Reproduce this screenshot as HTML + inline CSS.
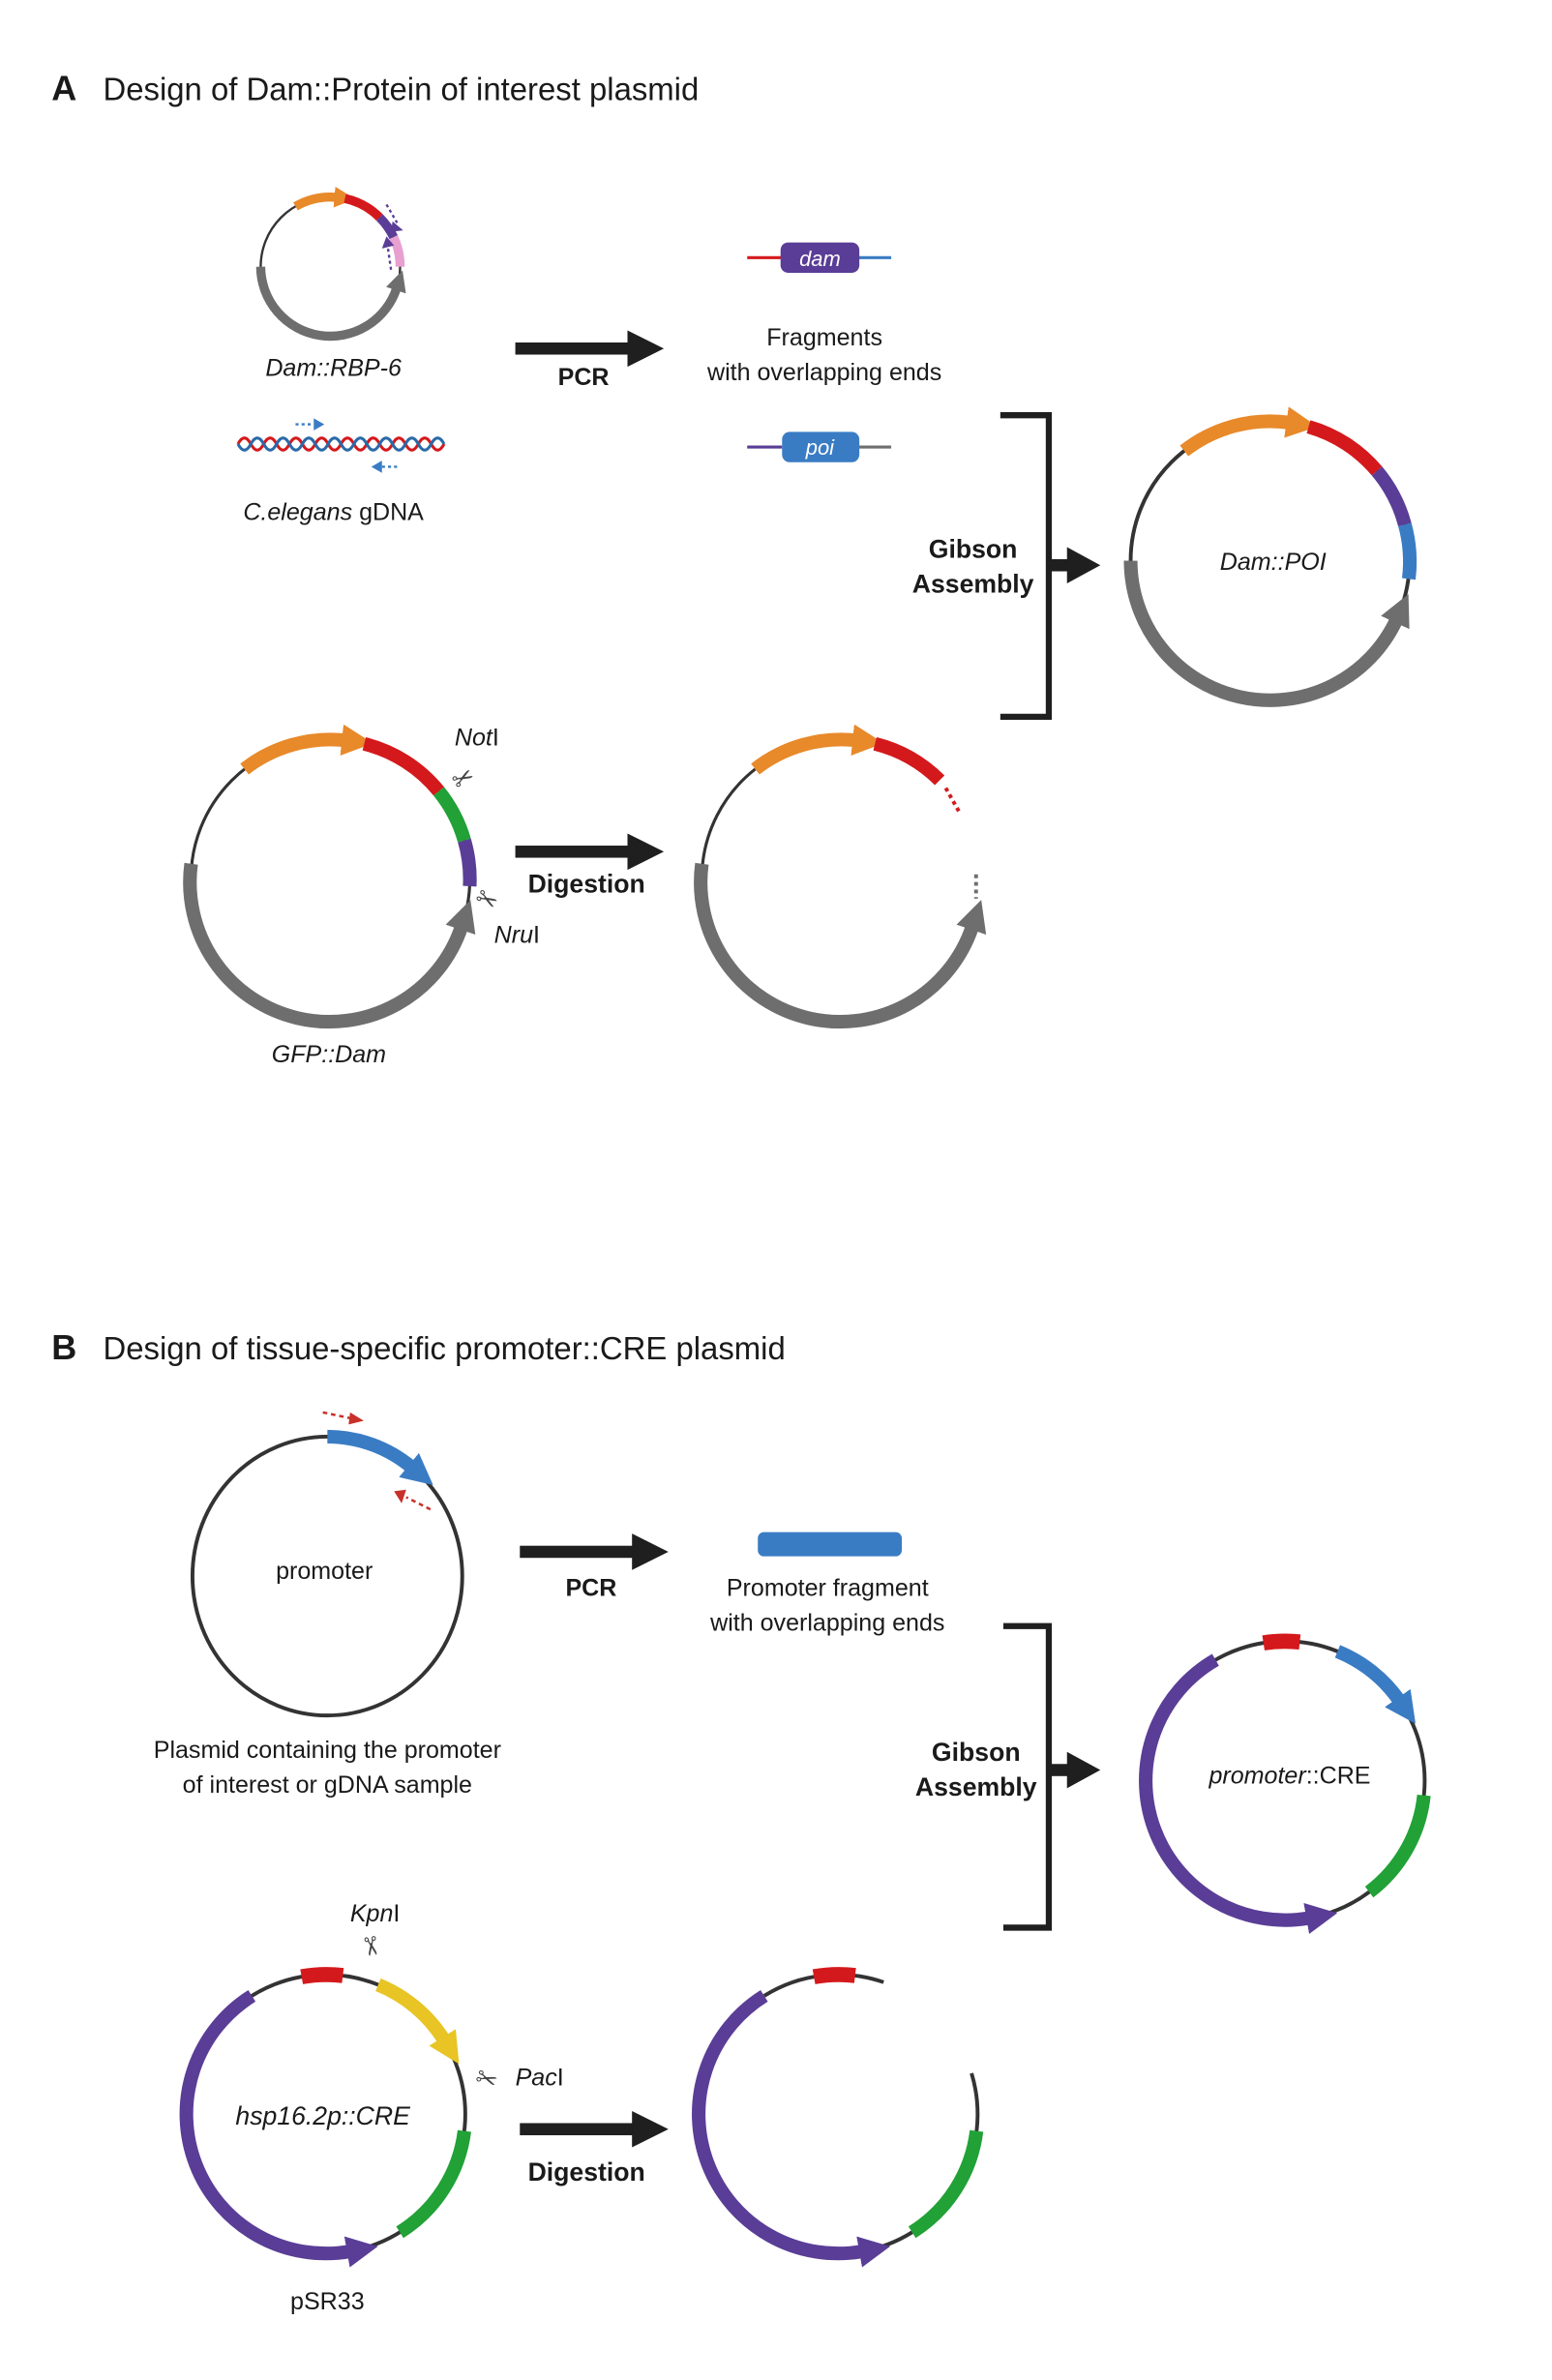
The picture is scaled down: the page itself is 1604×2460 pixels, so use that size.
<!DOCTYPE html>
<html><head><meta charset="utf-8"><style>
html,body{margin:0;padding:0;background:#fff;}
svg{display:block;}
text{font-family:"Liberation Sans",Arial,sans-serif;fill:#1a1a1a;}
.i{font-style:italic;}
.b{font-weight:bold;}
</style></head><body>
<svg width="1604" height="2460" viewBox="0 0 1024 1570.5" preserveAspectRatio="none" xmlns="http://www.w3.org/2000/svg">
<defs>
<marker id="mo" viewBox="0 0 10 10" refX="1" refY="5" markerWidth="2.3" markerHeight="2.3" orient="auto"><path d="M0,0L10,5L0,10z" fill="#e8892a"/></marker>
<marker id="mg" viewBox="0 0 10 10" refX="1" refY="5" markerWidth="2.3" markerHeight="2.3" orient="auto"><path d="M0,0L10,5L0,10z" fill="#6e6e6e"/></marker>
<marker id="mb" viewBox="0 0 10 10" refX="1" refY="5" markerWidth="2.3" markerHeight="2.3" orient="auto"><path d="M0,0L10,5L0,10z" fill="#3a7cc4"/></marker>
<marker id="mp" viewBox="0 0 10 10" refX="1" refY="5" markerWidth="2.3" markerHeight="2.3" orient="auto"><path d="M0,0L10,5L0,10z" fill="#5a3d96"/></marker>
<marker id="my" viewBox="0 0 10 10" refX="1" refY="5" markerWidth="2.3" markerHeight="2.3" orient="auto"><path d="M0,0L10,5L0,10z" fill="#e8c424"/></marker>
</defs>

<!-- ===== A ===== -->
<text x="34" y="66" font-size="23" class="b">A</text>
<text x="68" y="66" font-size="21">Design of Dam::Protein of interest plasmid</text>

<!-- Dam::RBP-6 -->
<g fill="none">
<circle cx="218" cy="176" r="46" stroke="#333" stroke-width="1.5"/>
<path d="M195,136.2 A46,46 0 0 1 222,130.2" stroke="#e8892a" stroke-width="6" marker-end="url(#mo)"/>
<path d="M227.6,131 A46,46 0 0 1 250.5,143.5" stroke="#d4191c" stroke-width="6"/>
<path d="M250.5,143.5 A46,46 0 0 1 259.7,156.5" stroke="#5a3d96" stroke-width="6"/>
<path d="M259.7,156.5 A46,46 0 0 1 264,176" stroke="#e8a0d0" stroke-width="6"/>
<path d="M172,176 A46,46 0 0 0 261.7,190.2" stroke="#6e6e6e" stroke-width="6" marker-end="url(#mg)"/>
<path d="M255,135 L262,147" stroke="#5a3d96" stroke-width="1.5" stroke-dasharray="2,2"/>
<path d="M258,178 L256,164" stroke="#5a3d96" stroke-width="1.5" stroke-dasharray="2,2"/>
</g>
<path d="M259,146 L266,152 L258,153z" fill="#5a3d96"/>
<path d="M252,164 L255,156 L260,162z" fill="#5a3d96"/>
<text x="220" y="248" font-size="16" class="i" text-anchor="middle">Dam::RBP-6</text>

<!-- DNA helix -->
<path d="M157 293 q4.25 -8 8.5 0 t8.5 0 t8.5 0 t8.5 0 t8.5 0 t8.5 0 t8.5 0 t8.5 0 t8.5 0 t8.5 0 t8.5 0 t8.5 0 t8.5 0 t8.5 0 t8.5 0 t8.5 0" fill="none" stroke="#d4191c" stroke-width="2"/>
<path d="M157 293 q4.25 8 8.5 0 t8.5 0 t8.5 0 t8.5 0 t8.5 0 t8.5 0 t8.5 0 t8.5 0 t8.5 0 t8.5 0 t8.5 0 t8.5 0 t8.5 0 t8.5 0 t8.5 0 t8.5 0" fill="none" stroke="#2a6aa8" stroke-width="2"/>
<path d="M195,280 L207,280" stroke="#3a7cc4" stroke-width="1.5" stroke-dasharray="2,2"/>
<path d="M207,276 L214,280 L207,284z" fill="#3a7cc4"/>
<path d="M252,308 L264,308" stroke="#3a7cc4" stroke-width="1.5" stroke-dasharray="2,2"/>
<path d="M252,304 L245,308 L252,312z" fill="#3a7cc4"/>
<text x="220" y="343" font-size="16" text-anchor="middle"><tspan class="i">C.elegans</tspan> gDNA</text>

<!-- PCR arrow A -->
<rect x="340" y="226" width="76" height="8" fill="#1f1f1f"/>
<path d="M414,218 L438,230 L414,242z" fill="#1f1f1f"/>
<text x="385" y="254" font-size="16" class="b" text-anchor="middle">PCR</text>

<!-- fragments -->
<line x1="493" y1="170" x2="516" y2="170" stroke="#d4191c" stroke-width="2"/>
<line x1="565" y1="170" x2="588" y2="170" stroke="#3a7cc4" stroke-width="2"/>
<rect x="515" y="160" width="52" height="20" rx="5" fill="#5a3d96"/>
<text x="541" y="175.5" font-size="14" class="i" text-anchor="middle" style="fill:#fff">dam</text>
<text x="544" y="228" font-size="16" text-anchor="middle">Fragments</text>
<text x="544" y="251" font-size="16" text-anchor="middle">with overlapping ends</text>
<line x1="493" y1="295" x2="516" y2="295" stroke="#5a3d96" stroke-width="2"/>
<line x1="565" y1="295" x2="588" y2="295" stroke="#6e6e6e" stroke-width="2"/>
<rect x="516" y="285" width="51" height="20" rx="5" fill="#3a7cc4"/>
<text x="541" y="300" font-size="14" class="i" text-anchor="middle" style="fill:#fff">poi</text>

<!-- bracket A -->
<path d="M660,274 H692 V473 H660" fill="none" stroke="#1f1f1f" stroke-width="4"/>
<rect x="692" y="369" width="14" height="8" fill="#1f1f1f"/>
<path d="M704,361 L726,373 L704,385z" fill="#1f1f1f"/>
<text x="642" y="368" font-size="17" class="b" text-anchor="middle">Gibson</text>
<text x="642" y="391" font-size="17" class="b" text-anchor="middle">Assembly</text>

<!-- Dam::POI -->
<g fill="none">
<circle cx="838" cy="370" r="92" stroke="#333" stroke-width="2.5"/>
<path d="M781.3,297.5 A92,92 0 0 1 850.8,278.9" stroke="#e8892a" stroke-width="9" marker-end="url(#mo)"/>
<path d="M863.4,281.6 A92,92 0 0 1 908.5,310.8" stroke="#d4191c" stroke-width="9"/>
<path d="M908.5,310.8 A92,92 0 0 1 926.9,346.2" stroke="#5a3d96" stroke-width="9"/>
<path d="M926.9,346.2 A92,92 0 0 1 929.5,382" stroke="#3a7cc4" stroke-width="9"/>
<path d="M746,370 A92,92 0 0 0 921.4,408.9" stroke="#6e6e6e" stroke-width="9" marker-end="url(#mg)"/>
</g>
<text x="840" y="376" font-size="16" class="i" text-anchor="middle">Dam::POI</text>

<!-- GFP::Dam -->
<g fill="none">
<circle cx="218" cy="580" r="92" stroke="#333" stroke-width="2"/>
<path d="M161.3,507.5 A92,92 0 0 1 227.6,488.5" stroke="#e8892a" stroke-width="9" marker-end="url(#mo)"/>
<path d="M240.3,490.8 A92,92 0 0 1 289.5,522.1" stroke="#d4191c" stroke-width="9"/>
<path d="M289.5,522.1 A92,92 0 0 1 306.4,554.6" stroke="#21a136" stroke-width="9"/>
<path d="M306.4,554.6 A92,92 0 0 1 309.9,584.8" stroke="#5a3d96" stroke-width="9"/>
<path d="M126.1,570 A92,92 0 0 0 304.5,611.5" stroke="#6e6e6e" stroke-width="9" marker-end="url(#mg)"/>
</g>
<text x="300" y="492" font-size="16" class="i">Not<tspan style="font-style:normal">I</tspan></text>
<text x="298" y="518" font-size="17" transform="rotate(-30 308 512)" style="fill:#444">✂</text>
<text x="314" y="600" font-size="17" transform="rotate(30 322 594)" style="fill:#444">✂</text>
<text x="326" y="622" font-size="16" class="i">Nru<tspan style="font-style:normal">I</tspan></text>
<text x="217" y="701" font-size="16" class="i" text-anchor="middle">GFP::Dam</text>

<!-- Digestion arrow A -->
<rect x="340" y="558" width="76" height="8" fill="#1f1f1f"/>
<path d="M414,550 L438,562 L414,574z" fill="#1f1f1f"/>
<text x="387" y="589" font-size="17" class="b" text-anchor="middle">Digestion</text>

<!-- digested A -->
<g fill="none">
<path d="M463.1,576.8 A92,92 0 0 1 498.3,507.5" stroke="#333" stroke-width="2"/>
<path d="M498.3,507.5 A92,92 0 0 1 564.6,488.5" stroke="#e8892a" stroke-width="9" marker-end="url(#mo)"/>
<path d="M577.3,490.8 A92,92 0 0 1 620,514.9" stroke="#d4191c" stroke-width="9"/>
<path d="M624,520 L633,536" stroke="#d4191c" stroke-width="2.5" stroke-dasharray="2.5,2.5"/>
<path d="M644,577 L644,593" stroke="#6e6e6e" stroke-width="2.5" stroke-dasharray="2.5,2.5"/>
<path d="M463.1,570 A92,92 0 0 0 641.5,611.5" stroke="#6e6e6e" stroke-width="9" marker-end="url(#mg)"/>
</g>

<!-- ===== B ===== -->
<text x="34" y="897" font-size="23" class="b">B</text>
<text x="68" y="897" font-size="21">Design of tissue-specific promoter::CRE plasmid</text>

<!-- promoter circle -->
<g fill="none">
<ellipse cx="216" cy="1040" rx="89" ry="92" stroke="#333" stroke-width="2.5"/>
<path d="M216,948 A89,92 0 0 1 271.4,968.1" stroke="#3a7cc4" stroke-width="9" marker-end="url(#mb)"/>
<path d="M213,932 L232,936" stroke="#c8302a" stroke-width="1.6" stroke-dasharray="3,2.5"/>
<path d="M284,996 L268,988" stroke="#c8302a" stroke-width="1.6" stroke-dasharray="3,2.5"/>
</g>
<path d="M231,932 L240,937.5 L230,940z" fill="#c8302a"/>
<path d="M268,983 L260,984 L265,992z" fill="#c8302a"/>
<text x="214" y="1042" font-size="16" text-anchor="middle">promoter</text>
<text x="216" y="1160" font-size="16" text-anchor="middle">Plasmid containing the promoter</text>
<text x="216" y="1183" font-size="16" text-anchor="middle">of interest or gDNA sample</text>

<!-- PCR arrow B -->
<rect x="343" y="1020" width="76" height="8" fill="#1f1f1f"/>
<path d="M417,1012 L441,1024 L417,1036z" fill="#1f1f1f"/>
<text x="390" y="1053" font-size="16" class="b" text-anchor="middle">PCR</text>

<rect x="500" y="1011" width="95" height="16" rx="4" fill="#3a7cc4"/>
<text x="546" y="1053" font-size="16" text-anchor="middle">Promoter fragment</text>
<text x="546" y="1076" font-size="16" text-anchor="middle">with overlapping ends</text>

<!-- bracket B -->
<path d="M662,1073 H692 V1272 H662" fill="none" stroke="#1f1f1f" stroke-width="4"/>
<rect x="692" y="1164" width="14" height="8" fill="#1f1f1f"/>
<path d="M704,1156 L726,1168 L704,1180z" fill="#1f1f1f"/>
<text x="644" y="1162" font-size="17" class="b" text-anchor="middle">Gibson</text>
<text x="644" y="1185" font-size="17" class="b" text-anchor="middle">Assembly</text>

<!-- promoter::CRE -->
<g fill="none">
<circle cx="848" cy="1175" r="92" stroke="#333" stroke-width="2.5"/>
<path d="M833.6,1084.1 A92,92 0 0 1 857.6,1083.5" stroke="#d4191c" stroke-width="10"/>
<path d="M882.5,1089.7 A92,92 0 0 1 923.3,1122.2" stroke="#3a7cc4" stroke-width="9" marker-end="url(#mb)"/>
<path d="M939.5,1184.7 A92,92 0 0 1 903.4,1248.5" stroke="#21a136" stroke-width="9"/>
<path d="M802,1095.3 A92,92 0 0 0 864,1265.6" stroke="#5a3d96" stroke-width="9" marker-end="url(#mp)"/>
</g>
<text x="851" y="1177" font-size="16" text-anchor="middle"><tspan class="i">promoter</tspan>::CRE</text>

<!-- hsp16.2p::CRE -->
<g fill="none">
<circle cx="215" cy="1395" r="92" stroke="#333" stroke-width="2.5"/>
<path d="M199,1304.4 A92,92 0 0 1 226.2,1303.6" stroke="#d4191c" stroke-width="10"/>
<path d="M249.5,1309.7 A92,92 0 0 1 293,1346.2" stroke="#e8c424" stroke-width="9" marker-end="url(#my)"/>
<path d="M306.4,1406.2 A92,92 0 0 1 263.8,1473" stroke="#21a136" stroke-width="9"/>
<path d="M166.2,1317 A92,92 0 0 0 231,1485.6" stroke="#5a3d96" stroke-width="9" marker-end="url(#mp)"/>
</g>
<text x="231" y="1268" font-size="16" class="i">Kpn<tspan style="font-style:normal">I</tspan></text>
<text x="238" y="1292" font-size="17" transform="rotate(80 246 1285)" style="fill:#444">✂</text>
<text x="314" y="1378" font-size="17" transform="rotate(20 322 1372)" style="fill:#444">✂</text>
<text x="340" y="1376" font-size="16" class="i">Pac<tspan style="font-style:normal">I</tspan></text>
<text x="213" y="1402" font-size="17" class="i" text-anchor="middle">hsp16.2p::CRE</text>
<text x="216" y="1524" font-size="16" text-anchor="middle">pSR33</text>

<!-- Digestion arrow B -->
<rect x="343" y="1401" width="76" height="8" fill="#1f1f1f"/>
<path d="M417,1393 L441,1405 L417,1417z" fill="#1f1f1f"/>
<text x="387" y="1439" font-size="17" class="b" text-anchor="middle">Digestion</text>

<!-- digested B -->
<g fill="none">
<path d="M504.2,1317 A92,92 0 0 1 583,1308" stroke="#333" stroke-width="2.5"/>
<path d="M641,1368.1 A92,92 0 0 1 601.8,1473" stroke="#333" stroke-width="2.5"/>
<path d="M601.8,1473 A92,92 0 0 1 569,1485.6" stroke="#333" stroke-width="2.5"/>
<path d="M537,1304.4 A92,92 0 0 1 564.2,1303.6" stroke="#d4191c" stroke-width="10"/>
<path d="M644.3,1406.2 A92,92 0 0 1 601.8,1473" stroke="#21a136" stroke-width="9"/>
<path d="M504.2,1317 A92,92 0 0 0 569,1485.6" stroke="#5a3d96" stroke-width="9" marker-end="url(#mp)"/>
</g>
</svg>
</body></html>
